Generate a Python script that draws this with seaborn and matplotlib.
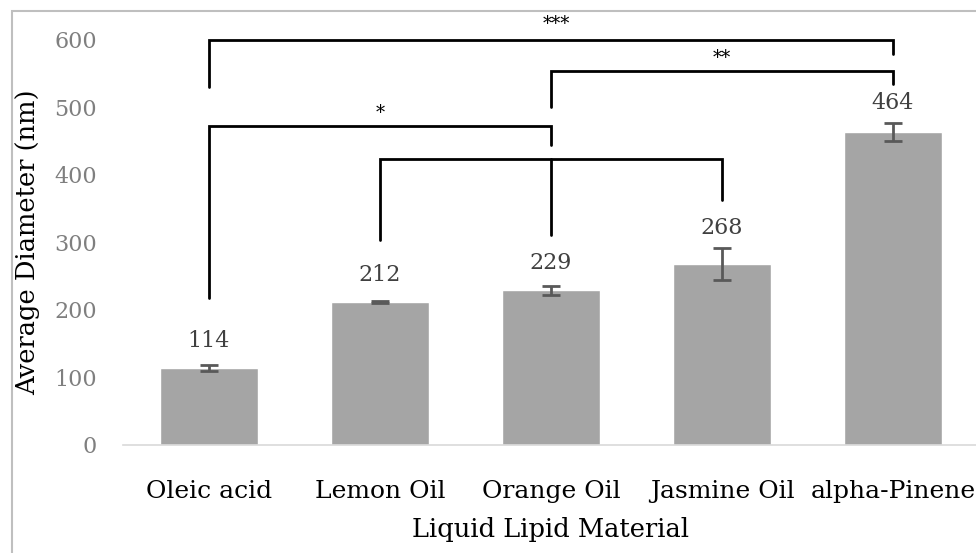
import matplotlib
matplotlib.use("Agg")
import matplotlib.pyplot as plt
import seaborn as sns
import pandas as pd
from matplotlib.patches import Rectangle

categories = ["Oleic acid", "Lemon Oil", "Orange Oil", "Jasmine Oil", "alpha-Pinene"]
values = [114, 212, 229, 268, 464]
errors = [4, 2, 7, 24, 13]
yticks = [0, 100, 200, 300, 400, 500, 600]

# significance brackets: (left idx, right idx, top y, left leg bottom, right leg bottom, label)
brackets = [
    (0, 4, 600, 530, 579, "***"),
    (2, 4, 554, 500, 535, "**"),
    (0, 2, 472, 218, 444, "*"),
    (1, 3, 424, 304, 363, ""),
]
# extra stem from the Lemon-Jasmine bracket down to Orange Oil
stems = [(2, 424, 311)]

sns.set_theme(style="white")
plt.rcParams["font.family"] = ["DejaVu Serif"]

fig = plt.figure(figsize=(9.76, 5.53), dpi=100)
ax = fig.add_axes([0.1265, 0.1953, 0.876, 0.7324])

df = pd.DataFrame({"cat": categories, "val": values})
sns.barplot(data=df, x="cat", y="val", color="#a5a5a5", saturation=1, width=0.57, ax=ax, errorbar=None)
ax.errorbar(x=range(len(values)), y=values, yerr=errors, fmt="none",
            ecolor="#595959", elinewidth=2, capsize=6.5, capthick=2, zorder=3)

for i, (v, e) in enumerate(zip(values, errors)):
    ax.text(i, max(v + 40, v + e + 29), str(v), ha="center", va="center",
            fontsize=16, color="#404040")

lw = 2.0
for (a, b, top, la, lb, lab) in brackets:
    ax.plot([a, a, b, b], [la, top, top, lb], color="black", lw=lw,
            clip_on=False, solid_joinstyle="miter", zorder=4)
    if lab:
        ax.text((a + b) / 2 + (0.03 if len(lab) == 3 else 0), top + (24 if len(lab) == 3 else 20),
                lab, ha="center", va="center", fontsize=13, color="black", clip_on=False)
for (x, t, bot) in stems:
    ax.plot([x, x], [t, bot], color="black", lw=lw, clip_on=False, zorder=4)

ax.set_ylim(0, 600)
ax.set_xlim(-0.5, 4.5)
ax.set_yticks(yticks)
ax.tick_params(axis="y", length=0, pad=19, labelsize=16, labelcolor="#7f7f7f")
ax.tick_params(axis="x", length=0, pad=25, labelsize=18, labelcolor="black")
for lbl in ax.get_yticklabels():
    lbl.set_color("#7f7f7f")
ax.set_xlabel("Liquid Lipid Material", fontsize=18.5, color="black", labelpad=10)
ax.set_ylabel("Average Diameter (nm)", fontsize=18.5, color="black", labelpad=10)

for s in ["top", "right", "left"]:
    ax.spines[s].set_visible(False)
ax.spines["bottom"].set_color("#d9d9d9")
ax.spines["bottom"].set_linewidth(1.2)
ax.grid(False)

fig.patches.append(Rectangle((12 / 976, -0.1), 1.2, 1 - 11 / 553 + 0.1,
                             transform=fig.transFigure, fill=False,
                             edgecolor="#bfbfbf", lw=1.5, zorder=0))

fig.savefig("out.png", dpi=100)
